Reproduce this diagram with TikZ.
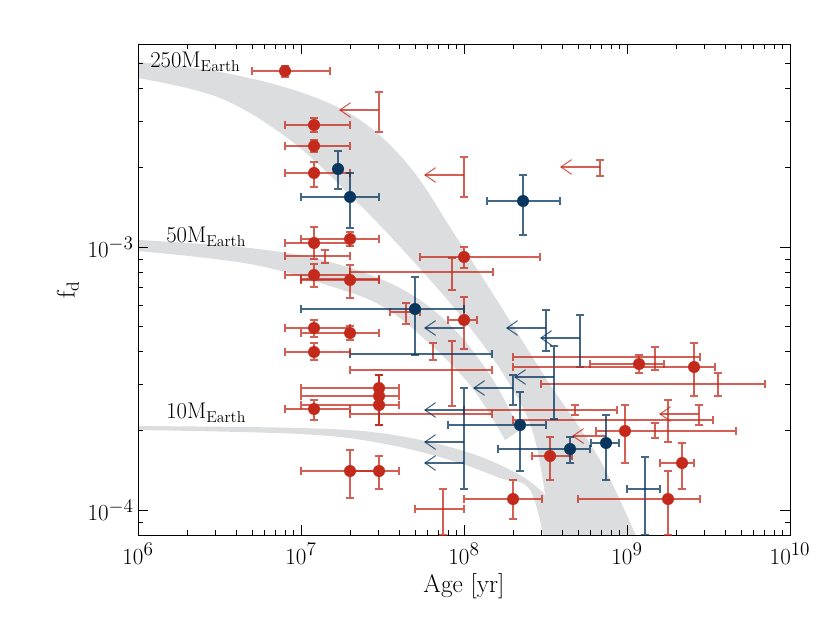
\documentclass[tikz,border=0pt]{standalone}
\usepackage{fontspec}
\usetikzlibrary{arrows.meta}
\definecolor{rd}{HTML}{C42A1C}
\definecolor{bl}{HTML}{08365F}
\definecolor{band}{HTML}{DCDDDF}
\tikzset{x=0.75pt,y=-0.75pt,
 err/.style={line width=0.8pt,opacity=0.75},
 lim/.style={line width=0.8pt,opacity=0.75,-{Straight Barb[length=8pt,width=11pt,line width=0.8pt]}},
 tk/.style={line width=0.6pt},
 lab/.style={font=\fontsize{19}{22}\selectfont,inner sep=0pt},
 blab/.style={font=\fontsize{17}{20}\selectfont,inner sep=0pt}}
\newcommand\ebh[4]{\draw[err,#1] (#3,#2) -- (#4,#2) (#3,#2-4) -- (#3,#2+4) (#4,#2-4) -- (#4,#2+4);}
\newcommand\ebv[4]{\draw[err,#1] (#2,#3) -- (#2,#4) (#2-4,#3) -- (#2+4,#3) (#2-4,#4) -- (#2+4,#4);}
\newcommand\ept[3]{\fill[#1] (#2,#3) circle (6);}
\newcommand\pnt[7]{\ebh{#1}{#3}{#4}{#5}\ebv{#1}{#2}{#6}{#7}\ept{#1}{#2}{#3}}
\newcommand\larr[5]{\ebv{#1}{#2}{#4}{#5}\draw[lim,#1] (#2,#3) -- (#2-40,#3);}
\begin{document}
\begin{tikzpicture}
\useasboundingbox (0,0) rectangle (830,623);
\begin{scope}
\clip (138,44) rectangle (790,535);
\fill[band] plot[smooth,tension=0.6] coordinates {(138,62)(220,72)(300,92)(360,120)(410,167)(455,235)(500,305)(547,380)(600,460)(640,545)}
 -- plot[smooth,tension=0.6] coordinates {(552,545)(535,440)(507,380)(460,315)(403,250)(350,195)(290,140)(220,98)(138,78)} -- cycle;
\fill[band] plot[smooth,tension=0.6] coordinates {(138,240)(250,248)(330,262)(400,288)(450,325)(490,375)(520,430)}
 -- plot[smooth,tension=0.6] coordinates {(505,440)(470,385)(420,335)(380,305)(330,286)(250,264)(138,251)} -- cycle;
\fill[band] plot[smooth,tension=0.6] coordinates {(138,426)(300,428)(380,433)(450,447)(500,465)(540,490)(585,545)}
 -- plot[smooth,tension=0.6] coordinates {(545,545)(530,490)(500,478)(450,460)(380,443)(300,434)(138,430)} -- cycle;
\end{scope}
\draw[line width=0.6pt] (138,44) rectangle (790,535);
% x ticks
\foreach \d in {0,1,2,3}{
 \draw[tk] ({138+163*\d},535) -- ++(0,-10) ({138+163*\d},44) -- ++(0,10);
 \foreach \m in {2,...,9}{
  \draw[tk] ({138+163*\d+163*log10(\m)},535) -- ++(0,-5) ({138+163*\d+163*log10(\m)},44) -- ++(0,5);}}
% y ticks
\draw[tk] (138,247) -- ++(10,0) (790,247) -- ++(-10,0) (138,510) -- ++(10,0) (790,510) -- ++(-10,0);
\foreach \m in {2,...,9}{\draw[tk] (138,{510-263*log10(\m)}) -- ++(5,0) (790,{510-263*log10(\m)}) -- ++(-5,0);}
\foreach \m in {2,...,5}{\draw[tk] (138,{247-263*log10(\m)}) -- ++(5,0) (790,{247-263*log10(\m)}) -- ++(-5,0);}
\draw[tk] (138,522) -- ++(5,0) (790,522) -- ++(-5,0);
% tick labels
\foreach \d/\e in {0/6,1/7,2/8,3/9,4/10}{\node[lab,anchor=north] (xl\e) at ({138+163*\d},543) {$10^{\e}$};}
\node[lab,anchor=east] (yl3) at (134,247) {$10^{-3}$};
\node[lab,anchor=east] (yl4) at (134,510) {$10^{-4}$};
\node[lab,anchor=north] (xlab) at (464,573) {Age [yr]};
\node[lab,rotate=90] (ylab) at (68,290) {$\mathrm{f_d}$};
\node[blab,anchor=west] (m250) at (150,62) {$\mathrm{250M_{Earth}}$};
\node[blab,anchor=west] (m50) at (166,237) {$\mathrm{50M_{Earth}}$};
\node[blab,anchor=west] (m10) at (166,413) {$\mathrm{10M_{Earth}}$};
% bare error crosses
\ebh{rd}{256}{285}{350}\ebv{rd}{325}{250}{263}
\ebh{rd}{279}{301}{379}
\ebv{rd}{452}{258}{290}\ebh{rd}{272}{350}{493}
\ebh{rd}{312}{390}{420}\ebv{rd}{406}{303}{324}
\ebh{rd}{370}{350}{492}
\ebh{rd}{414}{350}{492}
\ebh{rd}{410}{464}{617}\ebv{rd}{575}{405}{415}
\ebh{rd}{420}{513}{713}\ebv{rd}{699}{405}{425}
\ebv{rd}{655}{423}{438}
\ebh{rd}{384}{541}{765}\ebv{rd}{718}{373}{396}
\ebh{rd}{357}{513}{700}\ebv{rd}{655}{347}{370}
\ebv{rd}{443}{489}{535}\ebh{rd}{509}{415}{464}
\ebv{rd}{433}{343}{360}
\ebv{rd}{452}{341}{406}
\ebv{rd}{668}{400}{442}
\ebh{bl}{354}{350}{492}
\ebv{bl}{464}{388}{489}
\ebv{bl}{645}{457}{535}
\ebh{bl}{489}{627}{660}
% upper limits
\larr{rd}{379}{110}{92}{132}
\larr{rd}{464}{175}{157}{197}
\larr{rd}{600}{167}{160}{176}
\draw[lim,rd] (699,414) -- (659,414);
\draw[lim,rd] (606,436) -- (572,436);
\larr{bl}{546}{328}{310}{351}
\larr{bl}{580}{338}{315}{367}
\larr{bl}{554}{377}{346}{419}
\larr{bl}{513}{388}{375}{405}
\draw[lim,bl] (464,328) -- (424,328);
\draw[lim,bl] (464,410) -- (424,410);
\draw[lim,bl] (464,442) -- (424,442);
\draw[lim,bl] (464,463) -- (424,463);
% red points
\pnt{rd}{285}{71}{252}{330}{66}{77}
\pnt{rd}{314}{125}{285}{350}{118}{132}
\pnt{rd}{314}{146}{285}{350}{140}{152}
\pnt{rd}{314}{173}{285}{350}{162}{187}
\pnt{rd}{314}{243}{285}{350}{227}{259}
\pnt{rd}{350}{239}{301}{379}{232}{246}
\pnt{rd}{314}{275}{285}{350}{264}{287}
\pnt{rd}{350}{280}{301}{379}{265}{298}
\pnt{rd}{464}{257}{420}{540}{247}{268}
\pnt{rd}{464}{320}{448}{477}{297}{349}
\pnt{rd}{314}{328}{285}{350}{320}{337}
\pnt{rd}{350}{333}{301}{379}{326}{340}
\pnt{rd}{314}{352}{285}{350}{343}{360}
\pnt{rd}{379}{388}{301}{399}{375}{425}
\pnt{rd}{379}{396}{301}{399}{375}{425}
\pnt{rd}{379}{405}{301}{399}{375}{425}
\pnt{rd}{314}{409}{285}{350}{400}{420}
\pnt{rd}{350}{471}{301}{379}{450}{498}
\pnt{rd}{379}{471}{350}{399}{456}{489}
\pnt{rd}{513}{499}{464}{542}{480}{519}
\pnt{rd}{550}{456}{532}{572}{437}{480}
\pnt{rd}{639}{364}{590}{664}{355}{373}
\pnt{rd}{694}{367}{513}{715}{343}{396}
\pnt{rd}{625}{431}{596}{736}{405}{463}
\pnt{rd}{682}{463}{660}{694}{443}{489}
\pnt{rd}{668}{499}{578}{700}{471}{535}
% blue points
\ebv{bl}{338}{151}{189}\ept{bl}{338}{169}
\pnt{bl}{350}{197}{301}{379}{173}{228}
\pnt{bl}{523}{201}{487}{560}{175}{235}
\pnt{bl}{415}{309}{301}{464}{277}{355}
\pnt{bl}{520}{425}{448}{546}{392}{471}
\pnt{bl}{570}{449}{498}{590}{437}{463}
\pnt{bl}{606}{443}{591}{619}{415}{480}
\end{tikzpicture}
\end{document}
